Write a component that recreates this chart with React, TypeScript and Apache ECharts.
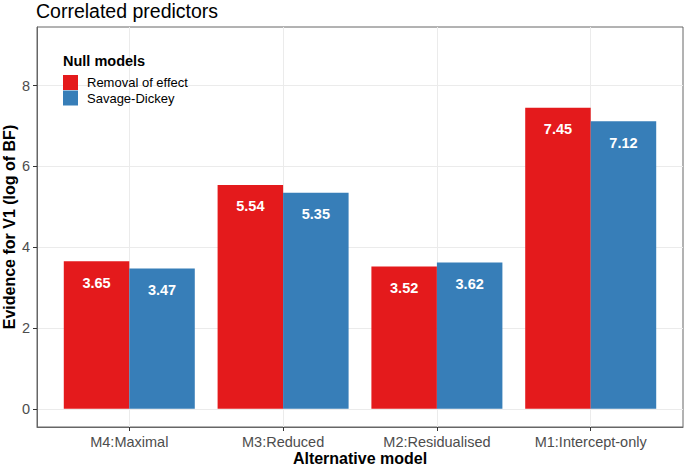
import React, { useEffect, useRef } from "react";
import * as echarts from "echarts";

const categories = ["M4:Maximal", "M3:Reduced", "M2:Residualised", "M1:Intercept-only"];
const removalOfEffect = [3.65, 5.54, 3.52, 7.45];
const savageDickey = [3.47, 5.35, 3.62, 7.12];
const yTicks = [0, 2, 4, 6, 8];
const xPositions = [1, 2, 3, 4];

const FONT = "Liberation Sans, Arial, Helvetica, sans-serif";

export default function App() {
  const ref = useRef<HTMLDivElement>(null);
  useEffect(() => {
    if (!ref.current) return;
    const chart = echarts.init(ref.current, null, { renderer: "svg" });
    const labelOpt = {
      show: true,
      position: "insideTop",
      distance: 14,
      color: "#ffffff",
      fontWeight: "bold",
      fontSize: 14.5,
      fontFamily: FONT,
      formatter: (p: any) => Number(p.value[1]).toFixed(2),
    };
    chart.setOption({
      animation: false,
      backgroundColor: "#ffffff",
      textStyle: { fontFamily: FONT },
      title: [
        {
          text: "Correlated predictors",
          left: 36,
          top: 1,
          padding: 0,
          textStyle: { fontSize: 19.5, fontWeight: "normal", color: "#000", fontFamily: FONT },
        },
        {
          text: "Null models",
          left: 63,
          top: 53,
          padding: 0,
          textStyle: { fontSize: 14.5, fontWeight: "bold", color: "#000", fontFamily: FONT },
        },
      ],
      legend: {
        orient: "vertical",
        left: 63,
        top: 75,
        padding: 0,
        itemWidth: 15,
        itemHeight: 15,
        itemGap: 0.5,
        icon: "rect",
        textStyle: { fontSize: 13, color: "#000", fontFamily: FONT, padding: [0, 0, 0, 4] },
        data: ["Removal of effect", "Savage-Dickey"],
      },
      grid: {
        left: 37,
        right: 2,
        top: 27,
        bottom: 39,
        containLabel: false,
        outerBoundsMode: "none",
        show: true,
        borderColor: "#666",
        borderWidth: 1,
        backgroundColor: "transparent",
      },
      xAxis: {
        type: "value",
        min: 0.4,
        max: 4.6,
        name: "Alternative model",
        nameLocation: "middle",
        nameGap: 23,
        nameMoveOverlap: false,
        nameTextStyle: { fontSize: 16, fontWeight: "bold", color: "#000", fontFamily: FONT },
        axisLine: { show: true, onZero: false, lineStyle: { color: "#666" } },
        axisTick: { show: true, length: 4, customValues: xPositions, lineStyle: { color: "#333" } },
        axisLabel: {
          customValues: xPositions,
          margin: 7,
          fontSize: 14.5,
          color: "#4D4D4D",
          fontFamily: FONT,
          formatter: (v: number) => categories[Math.round(v) - 1] ?? "",
        },
        splitLine: { show: true, lineStyle: { color: "#EBEBEB", width: 1 } },
      },
      yAxis: {
        type: "value",
        min: -0.45,
        max: 9.45,
        name: "Evidence for V1 (log of BF)",
        nameLocation: "middle",
        nameGap: 20,
        nameMoveOverlap: false,
        nameTextStyle: { fontSize: 16, fontWeight: "bold", color: "#000", fontFamily: FONT },
        axisLine: { show: true, onZero: false, lineStyle: { color: "#666" } },
        axisTick: { show: true, length: 4, customValues: yTicks, lineStyle: { color: "#333" } },
        axisLabel: {
          customValues: yTicks,
          margin: 7,
          fontSize: 14.5,
          color: "#4D4D4D",
          fontFamily: FONT,
        },
        splitLine: { show: true, lineStyle: { color: "#EBEBEB", width: 1 } },
      },
      series: [
        {
          name: "Removal of effect",
          type: "bar",
          barWidth: 65.5,
          barGap: "0%",
          itemStyle: { color: "#E41A1C" },
          label: labelOpt,
          data: xPositions.map((x, i) => [x, removalOfEffect[i]]),
        },
        {
          name: "Savage-Dickey",
          type: "bar",
          barWidth: 65.5,
          barGap: "0%",
          itemStyle: { color: "#377EB8" },
          label: labelOpt,
          data: xPositions.map((x, i) => [x, savageDickey[i]]),
        },
      ],
    });
    return () => chart.dispose();
  }, []);
  return <div ref={ref} style={{ width: 685, height: 466, position: "absolute", left: 0, top: 0 }} />;
}
